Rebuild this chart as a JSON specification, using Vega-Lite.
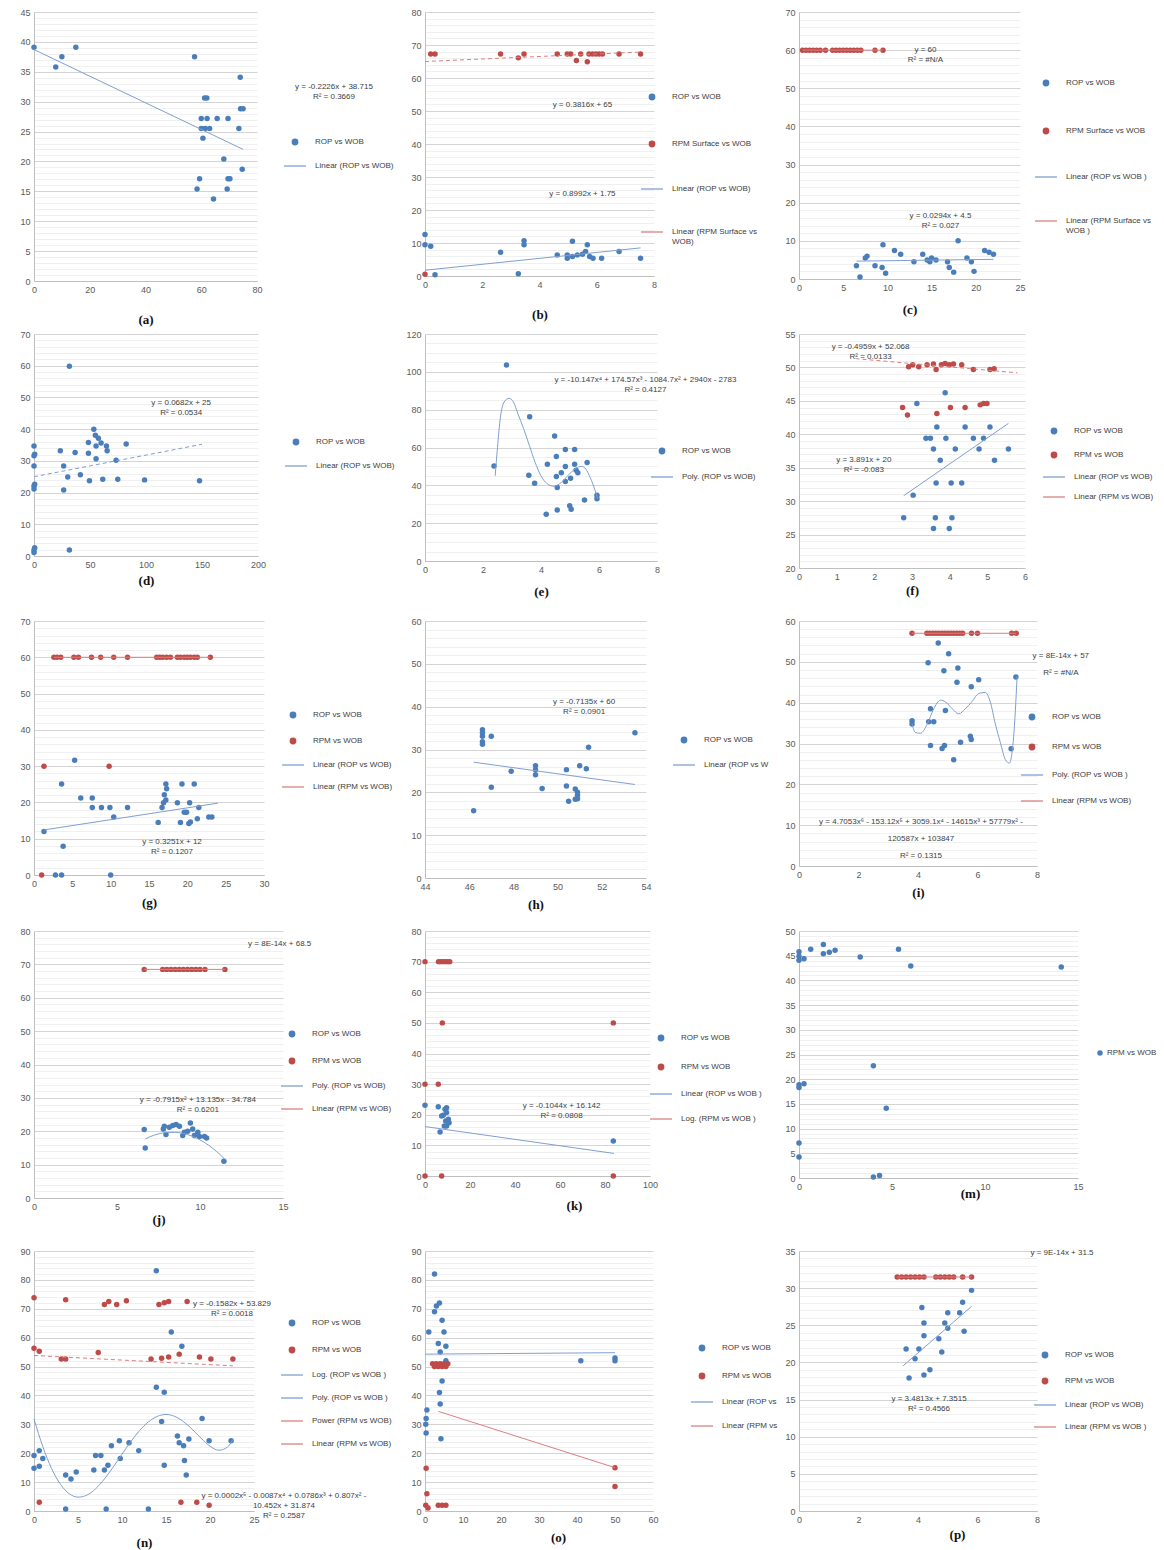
{
"$schema": "https://vega.github.io/schema/vega-lite/v6.json",
"background": "white",
"padding": {"left": 19, "top": 8, "right": 2, "bottom": 2},
"columns": 3,
"bounds": "flush",
"align": {"row": "each", "column": "each"},
"spacing": {"row": 53, "column": 142},
"resolve": {
  "scale": {"x": "independent", "y": "independent", "color": "independent", "shape": "independent"},
  "axis": {"x": "independent", "y": "independent"},
  "legend": {"color": "independent", "shape": "independent"}
},
"config": {
  "view": {"stroke": null},
  "font": "Liberation Sans",
  "axis": {"ticks": false, "domainColor": "#bfbfbf", "labelFontSize": 9, "labelColor": "#595959", "labelPadding": 4, "labelFlush": false, "labelOverlap": false, "titleFont": "Liberation Serif", "titleFontSize": 13, "titleFontWeight": "bold", "titleColor": "#111111"},
  "axisX": {"grid": false},
  "legend": {"orient": "none", "symbolSize": 30, "labelFontSize": 8, "labelColor": "#404040", "labelFont": "Liberation Sans", "labelOffset": 16, "padding": 0, "labelLimit": 200, "symbolStrokeWidth": 1.3},
  "point": {"filled": true, "size": 30, "opacity": 1},
  "line": {"strokeWidth": 1},
  "text": {"fontSize": 8, "font": "Liberation Sans", "align": "center", "baseline": "middle"}
},
"concat": [
{
"width": 223, "height": 269,
"encoding": {
  "x": {"field": "x", "type": "quantitative", "scale": {"domain": [0, 80], "nice": false}, "axis": {"title": "(a)", "values": [0, 20, 40, 60, 80], "titlePadding": 19}},
  "y": {"field": "y", "type": "quantitative", "scale": {"domain": [0, 45], "nice": false}, "axis": {"title": null, "tickCount": 45, "labelExpr": "datum.value % 5 === 0 ? datum.label : ''", "gridColor": {"condition": {"test": "datum.value % 5 === 0", "value": "#d4d4d4"}, "value": "#f0f0f0"}}},
  "color": {"field": "s", "type": "nominal", "scale": {"domain": ["ROP vs WOB", "Linear (ROP vs WOB)"], "range": ["#4a7ebb", "#7f9fd0"]},
    "legend": {"title": null, "legendX": 257, "legendY": 126, "rowPadding": 14, "encode": {"symbols": {"update": {"fill": {"signal": "test(/^(Linear|Poly|Log|Power)/, datum.value) ? 'transparent' : (test(/RPM/, datum.value) ? '#be4b48' : '#4a7ebb')"}, "stroke": {"signal": "test(/^(Linear|Poly|Log|Power)/, datum.value) ? (test(/RPM/, datum.value) ? '#d98080' : '#7f9fd0') : 'transparent'"}}}}}}
},
"layer": [
  {"data": {"values": [
    {"s": "ROP vs WOB", "x": 0, "y": 39.1}, {"s": "ROP vs WOB", "x": 7.8, "y": 35.8}, {"s": "ROP vs WOB", "x": 10, "y": 37.5}, {"s": "ROP vs WOB", "x": 15, "y": 39.1},
    {"s": "ROP vs WOB", "x": 57.6, "y": 37.5}, {"s": "ROP vs WOB", "x": 74, "y": 34.1}, {"s": "ROP vs WOB", "x": 61.2, "y": 30.6}, {"s": "ROP vs WOB", "x": 62, "y": 30.6},
    {"s": "ROP vs WOB", "x": 60, "y": 27.2}, {"s": "ROP vs WOB", "x": 62.1, "y": 27.2}, {"s": "ROP vs WOB", "x": 65.7, "y": 27.2}, {"s": "ROP vs WOB", "x": 69.6, "y": 27.2},
    {"s": "ROP vs WOB", "x": 74.1, "y": 28.8}, {"s": "ROP vs WOB", "x": 75, "y": 28.8}, {"s": "ROP vs WOB", "x": 60, "y": 25.5}, {"s": "ROP vs WOB", "x": 61.4, "y": 25.5},
    {"s": "ROP vs WOB", "x": 63, "y": 25.5}, {"s": "ROP vs WOB", "x": 73.5, "y": 25.5}, {"s": "ROP vs WOB", "x": 60.6, "y": 23.9}, {"s": "ROP vs WOB", "x": 68.1, "y": 20.4},
    {"s": "ROP vs WOB", "x": 74.7, "y": 18.7}, {"s": "ROP vs WOB", "x": 59.4, "y": 17.1}, {"s": "ROP vs WOB", "x": 69.6, "y": 17.1}, {"s": "ROP vs WOB", "x": 70.3, "y": 17.1},
    {"s": "ROP vs WOB", "x": 58.5, "y": 15.4}, {"s": "ROP vs WOB", "x": 69.3, "y": 15.4}, {"s": "ROP vs WOB", "x": 64.4, "y": 13.7}
  ]}, "mark": "point",
  "encoding": {"shape": {"field": "s", "type": "nominal", "scale": {"domain": ["ROP vs WOB", "Linear (ROP vs WOB)"], "range": ["circle", "M-4,0L4,0"]},
    "legend": {"title": null, "legendX": 257, "legendY": 126, "rowPadding": 14, "encode": {"symbols": {"update": {"fill": {"signal": "test(/^(Linear|Poly|Log|Power)/, datum.value) ? 'transparent' : (test(/RPM/, datum.value) ? '#be4b48' : '#4a7ebb')"}, "stroke": {"signal": "test(/^(Linear|Poly|Log|Power)/, datum.value) ? (test(/RPM/, datum.value) ? '#d98080' : '#7f9fd0') : 'transparent'"}}}}}}}},
  {"data": {"values": [{"s": "Linear (ROP vs WOB)", "x": 0, "y": 38.715}, {"s": "Linear (ROP vs WOB)", "x": 75, "y": 22.02}]}, "mark": "line"},
  {"data": {"values": [{"x": 107.6, "y": 32.5, "t": "y = -0.2226x + 38.715\nR² = 0.3669"}]}, "mark": {"type": "text", "lineBreak": "\n"}, "encoding": {"text": {"field": "t"}, "color": {"value": "#404040"}}}
]
},
{
"width": 229, "height": 264,
"encoding": {
  "x": {"field": "x", "type": "quantitative", "scale": {"domain": [0, 8], "nice": false}, "axis": {"title": "(b)", "values": [0, 2, 4, 6, 8], "titlePadding": 19}},
  "y": {"field": "y", "type": "quantitative", "scale": {"domain": [0, 80], "nice": false}, "axis": {"title": null, "tickCount": 40, "labelExpr": "datum.value % 10 === 0 ? datum.label : ''", "gridColor": {"condition": {"test": "datum.value % 10 === 0", "value": "#d4d4d4"}, "value": "#f0f0f0"}}},
  "color": {"field": "s", "type": "nominal", "scale": {"domain": ["ROP vs WOB", "RPM Surface vs WOB", "Linear (ROP vs WOB)", "Linear (RPM Surface vs|WOB)"], "range": ["#4a7ebb", "#be4b48", "#7f9fd0", "#d98080"]},
    "legend": {"title": null, "legendX": 223, "legendY": 81, "rowPadding": 35, "labelExpr": "split(datum.label, '|')", "encode": {"symbols": {"update": {"fill": {"signal": "test(/^(Linear|Poly|Log|Power)/, datum.value) ? 'transparent' : (test(/RPM/, datum.value) ? '#be4b48' : '#4a7ebb')"}, "stroke": {"signal": "test(/^(Linear|Poly|Log|Power)/, datum.value) ? (test(/RPM/, datum.value) ? '#d98080' : '#7f9fd0') : 'transparent'"}}}}}}
},
"layer": [
  {"data": {"values": [
    {"s": "ROP vs WOB", "x": 0, "y": 12.6}, {"s": "ROP vs WOB", "x": 0, "y": 9.5}, {"s": "ROP vs WOB", "x": 0.2, "y": 9.0}, {"s": "ROP vs WOB", "x": 0.35, "y": 0.4},
    {"s": "ROP vs WOB", "x": 2.64, "y": 7.2}, {"s": "ROP vs WOB", "x": 3.46, "y": 9.5}, {"s": "ROP vs WOB", "x": 3.46, "y": 10.7}, {"s": "ROP vs WOB", "x": 3.26, "y": 0.7},
    {"s": "ROP vs WOB", "x": 4.62, "y": 6.4}, {"s": "ROP vs WOB", "x": 4.97, "y": 6.4}, {"s": "ROP vs WOB", "x": 4.97, "y": 5.4}, {"s": "ROP vs WOB", "x": 5.15, "y": 10.5},
    {"s": "ROP vs WOB", "x": 5.15, "y": 5.9}, {"s": "ROP vs WOB", "x": 5.32, "y": 6.4}, {"s": "ROP vs WOB", "x": 5.5, "y": 6.6}, {"s": "ROP vs WOB", "x": 5.61, "y": 7.4},
    {"s": "ROP vs WOB", "x": 5.67, "y": 9.5}, {"s": "ROP vs WOB", "x": 5.75, "y": 5.9}, {"s": "ROP vs WOB", "x": 5.87, "y": 5.4}, {"s": "ROP vs WOB", "x": 6.17, "y": 5.4},
    {"s": "ROP vs WOB", "x": 6.78, "y": 7.4}, {"s": "ROP vs WOB", "x": 7.53, "y": 5.4},
    {"s": "RPM Surface vs WOB", "x": 0, "y": 0.5}, {"s": "RPM Surface vs WOB", "x": 0.2, "y": 67.3}, {"s": "RPM Surface vs WOB", "x": 0.35, "y": 67.3}, {"s": "RPM Surface vs WOB", "x": 2.64, "y": 67.3},
    {"s": "RPM Surface vs WOB", "x": 3.26, "y": 66.1}, {"s": "RPM Surface vs WOB", "x": 3.46, "y": 67.3}, {"s": "RPM Surface vs WOB", "x": 4.62, "y": 67.3}, {"s": "RPM Surface vs WOB", "x": 4.97, "y": 67.3},
    {"s": "RPM Surface vs WOB", "x": 5.09, "y": 67.3}, {"s": "RPM Surface vs WOB", "x": 5.29, "y": 65.3}, {"s": "RPM Surface vs WOB", "x": 5.44, "y": 67.3}, {"s": "RPM Surface vs WOB", "x": 5.67, "y": 64.9},
    {"s": "RPM Surface vs WOB", "x": 5.73, "y": 67.3}, {"s": "RPM Surface vs WOB", "x": 5.85, "y": 67.3}, {"s": "RPM Surface vs WOB", "x": 5.97, "y": 67.3}, {"s": "RPM Surface vs WOB", "x": 6.08, "y": 67.3},
    {"s": "RPM Surface vs WOB", "x": 6.2, "y": 67.3}, {"s": "RPM Surface vs WOB", "x": 6.78, "y": 67.3}, {"s": "RPM Surface vs WOB", "x": 7.53, "y": 67.3}
  ]}, "mark": "point",
  "encoding": {"shape": {"field": "s", "type": "nominal", "scale": {"domain": ["ROP vs WOB", "RPM Surface vs WOB", "Linear (ROP vs WOB)", "Linear (RPM Surface vs|WOB)"], "range": ["circle", "circle", "M-4,0L4,0", "M-4,0L4,0"]},
    "legend": {"title": null, "legendX": 223, "legendY": 81, "rowPadding": 35, "labelExpr": "split(datum.label, '|')", "encode": {"symbols": {"update": {"fill": {"signal": "test(/^(Linear|Poly|Log|Power)/, datum.value) ? 'transparent' : (test(/RPM/, datum.value) ? '#be4b48' : '#4a7ebb')"}, "stroke": {"signal": "test(/^(Linear|Poly|Log|Power)/, datum.value) ? (test(/RPM/, datum.value) ? '#d98080' : '#7f9fd0') : 'transparent'"}}}}}}}},
  {"data": {"values": [{"s": "Linear (ROP vs WOB)", "x": 0, "y": 1.75}, {"s": "Linear (ROP vs WOB)", "x": 7.53, "y": 8.52}]}, "mark": "line"},
  {"data": {"values": [{"s": "Linear (RPM Surface vs|WOB)", "x": 0, "y": 65}, {"s": "Linear (RPM Surface vs|WOB)", "x": 7.53, "y": 67.87}]}, "mark": {"type": "line", "strokeDash": [4, 3]}},
  {"data": {"values": [{"x": 5.5, "y": 51.9, "t": "y = 0.3816x + 65"}, {"x": 5.5, "y": 25.0, "t": "y = 0.8992x + 1.75"}]}, "mark": {"type": "text", "lineBreak": "\n"}, "encoding": {"text": {"field": "t"}, "color": {"value": "#404040"}}}
]
},
{
"width": 221, "height": 267,
"encoding": {
  "x": {"field": "x", "type": "quantitative", "scale": {"domain": [0, 25], "nice": false}, "axis": {"title": "(c)", "values": [0, 5, 10, 15, 20, 25], "titlePadding": 11}},
  "y": {"field": "y", "type": "quantitative", "scale": {"domain": [0, 70], "nice": false}, "axis": {"title": null, "tickCount": 35, "labelExpr": "datum.value % 10 === 0 ? datum.label : ''", "gridColor": {"condition": {"test": "datum.value % 10 === 0", "value": "#d4d4d4"}, "value": "#f0f0f0"}}},
  "color": {"field": "s", "type": "nominal", "scale": {"domain": ["ROP vs WOB", "RPM Surface vs WOB", "Linear (ROP vs WOB )", "Linear (RPM Surface vs|WOB )"], "range": ["#4a7ebb", "#be4b48", "#7f9fd0", "#d98080"]},
    "legend": {"title": null, "legendX": 243, "legendY": 67, "rowPadding": 36, "labelExpr": "split(datum.label, '|')", "encode": {"symbols": {"update": {"fill": {"signal": "test(/^(Linear|Poly|Log|Power)/, datum.value) ? 'transparent' : (test(/RPM/, datum.value) ? '#be4b48' : '#4a7ebb')"}, "stroke": {"signal": "test(/^(Linear|Poly|Log|Power)/, datum.value) ? (test(/RPM/, datum.value) ? '#d98080' : '#7f9fd0') : 'transparent'"}}}}}}
},
"layer": [
  {"data": {"values": [
    {"s": "ROP vs WOB", "x": 6.5, "y": 3.5}, {"s": "ROP vs WOB", "x": 6.9, "y": 0.5}, {"s": "ROP vs WOB", "x": 7.5, "y": 5.5}, {"s": "ROP vs WOB", "x": 7.7, "y": 6.0},
    {"s": "ROP vs WOB", "x": 8.6, "y": 3.5}, {"s": "ROP vs WOB", "x": 9.5, "y": 9.0}, {"s": "ROP vs WOB", "x": 9.4, "y": 3.0}, {"s": "ROP vs WOB", "x": 9.8, "y": 1.5},
    {"s": "ROP vs WOB", "x": 10.8, "y": 7.5}, {"s": "ROP vs WOB", "x": 11.5, "y": 6.5}, {"s": "ROP vs WOB", "x": 13.0, "y": 4.5}, {"s": "ROP vs WOB", "x": 14.0, "y": 6.5},
    {"s": "ROP vs WOB", "x": 14.5, "y": 5.0}, {"s": "ROP vs WOB", "x": 14.8, "y": 4.5}, {"s": "ROP vs WOB", "x": 15.0, "y": 5.5}, {"s": "ROP vs WOB", "x": 15.5, "y": 5.0},
    {"s": "ROP vs WOB", "x": 16.8, "y": 4.5}, {"s": "ROP vs WOB", "x": 17.0, "y": 3.0}, {"s": "ROP vs WOB", "x": 17.5, "y": 1.8}, {"s": "ROP vs WOB", "x": 18.0, "y": 10.0},
    {"s": "ROP vs WOB", "x": 19.0, "y": 5.5}, {"s": "ROP vs WOB", "x": 19.5, "y": 4.5}, {"s": "ROP vs WOB", "x": 19.8, "y": 2.0}, {"s": "ROP vs WOB", "x": 21.0, "y": 7.5},
    {"s": "ROP vs WOB", "x": 21.5, "y": 7.0}, {"s": "ROP vs WOB", "x": 22.0, "y": 6.5},
    {"s": "RPM Surface vs WOB", "x": 0.4, "y": 60}, {"s": "RPM Surface vs WOB", "x": 0.8, "y": 60}, {"s": "RPM Surface vs WOB", "x": 1.2, "y": 60}, {"s": "RPM Surface vs WOB", "x": 1.6, "y": 60},
    {"s": "RPM Surface vs WOB", "x": 2.0, "y": 60}, {"s": "RPM Surface vs WOB", "x": 2.4, "y": 60}, {"s": "RPM Surface vs WOB", "x": 3.0, "y": 60}, {"s": "RPM Surface vs WOB", "x": 3.8, "y": 60},
    {"s": "RPM Surface vs WOB", "x": 4.2, "y": 60}, {"s": "RPM Surface vs WOB", "x": 4.6, "y": 60}, {"s": "RPM Surface vs WOB", "x": 5.0, "y": 60}, {"s": "RPM Surface vs WOB", "x": 5.4, "y": 60},
    {"s": "RPM Surface vs WOB", "x": 5.8, "y": 60}, {"s": "RPM Surface vs WOB", "x": 6.2, "y": 60}, {"s": "RPM Surface vs WOB", "x": 6.6, "y": 60}, {"s": "RPM Surface vs WOB", "x": 7.0, "y": 60},
    {"s": "RPM Surface vs WOB", "x": 8.6, "y": 60}, {"s": "RPM Surface vs WOB", "x": 9.5, "y": 60}
  ]}, "mark": "point",
  "encoding": {"shape": {"field": "s", "type": "nominal", "scale": {"domain": ["ROP vs WOB", "RPM Surface vs WOB", "Linear (ROP vs WOB )", "Linear (RPM Surface vs|WOB )"], "range": ["circle", "circle", "M-4,0L4,0", "M-4,0L4,0"]},
    "legend": {"title": null, "legendX": 243, "legendY": 67, "rowPadding": 36, "labelExpr": "split(datum.label, '|')", "encode": {"symbols": {"update": {"fill": {"signal": "test(/^(Linear|Poly|Log|Power)/, datum.value) ? 'transparent' : (test(/RPM/, datum.value) ? '#be4b48' : '#4a7ebb')"}, "stroke": {"signal": "test(/^(Linear|Poly|Log|Power)/, datum.value) ? (test(/RPM/, datum.value) ? '#d98080' : '#7f9fd0') : 'transparent'"}}}}}}}},
  {"data": {"values": [{"s": "Linear (ROP vs WOB )", "x": 6.5, "y": 4.69}, {"s": "Linear (ROP vs WOB )", "x": 22, "y": 5.15}, {"s": "Linear (RPM Surface vs|WOB )", "x": 0.4, "y": 60}, {"s": "Linear (RPM Surface vs|WOB )", "x": 9.5, "y": 60}]}, "mark": "line"},
  {"data": {"values": [{"x": 14.3, "y": 60.1, "t": "y = 60\nR² = #N/A"}, {"x": 16.0, "y": 16.6, "t": "y = 0.0294x + 4.5\nR² = 0.027"}]}, "mark": {"type": "text", "lineBreak": "\n"}, "encoding": {"text": {"field": "t"}, "color": {"value": "#404040"}}}
]
},
{
"width": 224, "height": 222,
"encoding": {
  "x": {"field": "x", "type": "quantitative", "scale": {"domain": [0, 200], "nice": false}, "axis": {"title": "(d)", "values": [0, 50, 100, 150, 200], "titlePadding": 5}},
  "y": {"field": "y", "type": "quantitative", "scale": {"domain": [0, 70], "nice": false}, "axis": {"title": null, "tickCount": 35, "labelExpr": "datum.value % 10 === 0 ? datum.label : ''", "gridColor": {"condition": {"test": "datum.value % 10 === 0", "value": "#d4d4d4"}, "value": "#f0f0f0"}}},
  "color": {"field": "s", "type": "nominal", "scale": {"domain": ["ROP vs WOB", "Linear (ROP vs WOB)"], "range": ["#4a7ebb", "#7f9fd0"]},
    "legend": {"title": null, "legendX": 258, "legendY": 104, "rowPadding": 14, "encode": {"symbols": {"update": {"fill": {"signal": "test(/^(Linear|Poly|Log|Power)/, datum.value) ? 'transparent' : (test(/RPM/, datum.value) ? '#be4b48' : '#4a7ebb')"}, "stroke": {"signal": "test(/^(Linear|Poly|Log|Power)/, datum.value) ? (test(/RPM/, datum.value) ? '#d98080' : '#7f9fd0') : 'transparent'"}}}}}}
},
"layer": [
  {"data": {"values": [
    {"s": "ROP vs WOB", "x": 0, "y": 34.7}, {"s": "ROP vs WOB", "x": 0, "y": 31.6}, {"s": "ROP vs WOB", "x": 0.6, "y": 32.1}, {"s": "ROP vs WOB", "x": 0, "y": 28.4},
    {"s": "ROP vs WOB", "x": 0, "y": 22.1}, {"s": "ROP vs WOB", "x": 0, "y": 21.1}, {"s": "ROP vs WOB", "x": 0.6, "y": 22.6}, {"s": "ROP vs WOB", "x": 0, "y": 1.9},
    {"s": "ROP vs WOB", "x": 0, "y": 1.1}, {"s": "ROP vs WOB", "x": 0.6, "y": 2.6}, {"s": "ROP vs WOB", "x": 31.6, "y": 59.8}, {"s": "ROP vs WOB", "x": 31.6, "y": 1.9},
    {"s": "ROP vs WOB", "x": 23.5, "y": 33.2}, {"s": "ROP vs WOB", "x": 26.5, "y": 28.4}, {"s": "ROP vs WOB", "x": 26.5, "y": 20.8}, {"s": "ROP vs WOB", "x": 30.1, "y": 24.9},
    {"s": "ROP vs WOB", "x": 36.7, "y": 32.6}, {"s": "ROP vs WOB", "x": 41.4, "y": 25.6}, {"s": "ROP vs WOB", "x": 48.6, "y": 35.8}, {"s": "ROP vs WOB", "x": 48.6, "y": 32.4},
    {"s": "ROP vs WOB", "x": 49.5, "y": 23.7}, {"s": "ROP vs WOB", "x": 53.4, "y": 40.0}, {"s": "ROP vs WOB", "x": 54.8, "y": 38.1}, {"s": "ROP vs WOB", "x": 55.4, "y": 34.7},
    {"s": "ROP vs WOB", "x": 55.4, "y": 30.7}, {"s": "ROP vs WOB", "x": 57.5, "y": 37.1}, {"s": "ROP vs WOB", "x": 59.9, "y": 35.6}, {"s": "ROP vs WOB", "x": 61.4, "y": 24.2},
    {"s": "ROP vs WOB", "x": 64.7, "y": 34.7}, {"s": "ROP vs WOB", "x": 65.3, "y": 33.2}, {"s": "ROP vs WOB", "x": 73.3, "y": 30.2}, {"s": "ROP vs WOB", "x": 74.8, "y": 24.2},
    {"s": "ROP vs WOB", "x": 82.3, "y": 35.3}, {"s": "ROP vs WOB", "x": 98.7, "y": 24.0}, {"s": "ROP vs WOB", "x": 147.8, "y": 23.7}
  ]}, "mark": "point",
  "encoding": {"shape": {"field": "s", "type": "nominal", "scale": {"domain": ["ROP vs WOB", "Linear (ROP vs WOB)"], "range": ["circle", "M-4,0L4,0"]},
    "legend": {"title": null, "legendX": 258, "legendY": 104, "rowPadding": 14, "encode": {"symbols": {"update": {"fill": {"signal": "test(/^(Linear|Poly|Log|Power)/, datum.value) ? 'transparent' : (test(/RPM/, datum.value) ? '#be4b48' : '#4a7ebb')"}, "stroke": {"signal": "test(/^(Linear|Poly|Log|Power)/, datum.value) ? (test(/RPM/, datum.value) ? '#d98080' : '#7f9fd0') : 'transparent'"}}}}}}}},
  {"data": {"values": [{"s": "Linear (ROP vs WOB)", "x": 0, "y": 25}, {"s": "Linear (ROP vs WOB)", "x": 150, "y": 35.23}]}, "mark": {"type": "line", "strokeDash": [4, 3]}},
  {"data": {"values": [{"x": 131.4, "y": 48.2, "t": "y = 0.0682x + 25\nR² = 0.0534"}]}, "mark": {"type": "text", "lineBreak": "\n"}, "encoding": {"text": {"field": "t"}, "color": {"value": "#404040"}}}
]
},
{
"width": 232, "height": 227,
"encoding": {
  "x": {"field": "x", "type": "quantitative", "scale": {"domain": [0, 8], "nice": false}, "axis": {"title": "(e)", "values": [0, 2, 4, 6, 8], "titlePadding": 11}},
  "y": {"field": "y", "type": "quantitative", "scale": {"domain": [0, 120], "nice": false}, "axis": {"title": null, "tickCount": 24, "labelExpr": "datum.value % 20 === 0 ? datum.label : ''", "gridColor": {"condition": {"test": "datum.value % 20 === 0", "value": "#d4d4d4"}, "value": "#f0f0f0"}}},
  "color": {"field": "s", "type": "nominal", "scale": {"domain": ["ROP vs WOB", "Poly. (ROP vs WOB)"], "range": ["#4a7ebb", "#7f9fd0"]},
    "legend": {"title": null, "legendX": 233, "legendY": 113, "rowPadding": 16, "encode": {"symbols": {"update": {"fill": {"signal": "test(/^(Linear|Poly|Log|Power)/, datum.value) ? 'transparent' : (test(/RPM/, datum.value) ? '#be4b48' : '#4a7ebb')"}, "stroke": {"signal": "test(/^(Linear|Poly|Log|Power)/, datum.value) ? (test(/RPM/, datum.value) ? '#d98080' : '#7f9fd0') : 'transparent'"}}}}}}
},
"layer": [
  {"data": {"values": [
    {"s": "ROP vs WOB", "x": 2.81, "y": 103.6}, {"s": "ROP vs WOB", "x": 2.38, "y": 50.2}, {"s": "ROP vs WOB", "x": 3.61, "y": 76.2}, {"s": "ROP vs WOB", "x": 3.58, "y": 45.3},
    {"s": "ROP vs WOB", "x": 3.78, "y": 41.1}, {"s": "ROP vs WOB", "x": 4.22, "y": 51.1}, {"s": "ROP vs WOB", "x": 4.47, "y": 66.1}, {"s": "ROP vs WOB", "x": 4.53, "y": 55.3},
    {"s": "ROP vs WOB", "x": 4.53, "y": 44.7}, {"s": "ROP vs WOB", "x": 4.56, "y": 38.9}, {"s": "ROP vs WOB", "x": 4.18, "y": 24.7}, {"s": "ROP vs WOB", "x": 4.56, "y": 27.0},
    {"s": "ROP vs WOB", "x": 4.70, "y": 46.6}, {"s": "ROP vs WOB", "x": 4.84, "y": 49.9}, {"s": "ROP vs WOB", "x": 4.84, "y": 59.0}, {"s": "ROP vs WOB", "x": 4.84, "y": 42.0},
    {"s": "ROP vs WOB", "x": 5.02, "y": 43.8}, {"s": "ROP vs WOB", "x": 4.99, "y": 29.2}, {"s": "ROP vs WOB", "x": 5.04, "y": 27.4}, {"s": "ROP vs WOB", "x": 5.16, "y": 59.0},
    {"s": "ROP vs WOB", "x": 5.16, "y": 51.1}, {"s": "ROP vs WOB", "x": 5.21, "y": 48.0}, {"s": "ROP vs WOB", "x": 5.27, "y": 46.6}, {"s": "ROP vs WOB", "x": 5.50, "y": 32.3},
    {"s": "ROP vs WOB", "x": 5.59, "y": 52.1}, {"s": "ROP vs WOB", "x": 5.93, "y": 34.7}, {"s": "ROP vs WOB", "x": 5.93, "y": 32.9}
  ]}, "mark": "point",
  "encoding": {"shape": {"field": "s", "type": "nominal", "scale": {"domain": ["ROP vs WOB", "Poly. (ROP vs WOB)"], "range": ["circle", "M-4,0L4,0"]},
    "legend": {"title": null, "legendX": 233, "legendY": 113, "rowPadding": 16, "encode": {"symbols": {"update": {"fill": {"signal": "test(/^(Linear|Poly|Log|Power)/, datum.value) ? 'transparent' : (test(/RPM/, datum.value) ? '#be4b48' : '#4a7ebb')"}, "stroke": {"signal": "test(/^(Linear|Poly|Log|Power)/, datum.value) ? (test(/RPM/, datum.value) ? '#d98080' : '#7f9fd0') : 'transparent'"}}}}}}}},
  {"data": {"values": [
    {"s": "Poly. (ROP vs WOB)", "x": 2.42, "y": 45}, {"s": "Poly. (ROP vs WOB)", "x": 2.5, "y": 60}, {"s": "Poly. (ROP vs WOB)", "x": 2.6, "y": 76}, {"s": "Poly. (ROP vs WOB)", "x": 2.75, "y": 84.5},
    {"s": "Poly. (ROP vs WOB)", "x": 2.9, "y": 86}, {"s": "Poly. (ROP vs WOB)", "x": 3.05, "y": 84}, {"s": "Poly. (ROP vs WOB)", "x": 3.2, "y": 78}, {"s": "Poly. (ROP vs WOB)", "x": 3.4, "y": 70},
    {"s": "Poly. (ROP vs WOB)", "x": 3.6, "y": 61}, {"s": "Poly. (ROP vs WOB)", "x": 3.8, "y": 52}, {"s": "Poly. (ROP vs WOB)", "x": 4.0, "y": 45}, {"s": "Poly. (ROP vs WOB)", "x": 4.2, "y": 41},
    {"s": "Poly. (ROP vs WOB)", "x": 4.45, "y": 39.5}, {"s": "Poly. (ROP vs WOB)", "x": 4.7, "y": 41.5}, {"s": "Poly. (ROP vs WOB)", "x": 4.95, "y": 45.5}, {"s": "Poly. (ROP vs WOB)", "x": 5.2, "y": 49},
    {"s": "Poly. (ROP vs WOB)", "x": 5.4, "y": 50}, {"s": "Poly. (ROP vs WOB)", "x": 5.55, "y": 48.5}, {"s": "Poly. (ROP vs WOB)", "x": 5.7, "y": 44}, {"s": "Poly. (ROP vs WOB)", "x": 5.85, "y": 38},
    {"s": "Poly. (ROP vs WOB)", "x": 5.95, "y": 33}
  ]}, "mark": {"type": "line", "interpolate": "monotone"}},
  {"data": {"values": [{"x": 7.6, "y": 95.6, "t": "y = -10.147x⁴ + 174.57x³ - 1084.7x² + 2940x - 2783\nR² = 0.4127"}]}, "mark": {"type": "text", "lineBreak": "\n"}, "encoding": {"text": {"field": "t"}, "color": {"value": "#404040"}}}
]
},
{
"width": 226, "height": 234,
"encoding": {
  "x": {"field": "x", "type": "quantitative", "scale": {"domain": [0, 6], "nice": false}, "axis": {"title": "(f)", "values": [0, 1, 2, 3, 4, 5, 6], "titlePadding": 3}},
  "y": {"field": "y", "type": "quantitative", "scale": {"domain": [20, 55], "nice": false}, "axis": {"title": null, "tickCount": 35, "labelExpr": "datum.value % 5 === 0 ? datum.label : ''", "gridColor": {"condition": {"test": "datum.value % 5 === 0", "value": "#d4d4d4"}, "value": "#f0f0f0"}}},
  "color": {"field": "s", "type": "nominal", "scale": {"domain": ["ROP vs WOB", "RPM vs WOB", "Linear (ROP vs WOB)", "Linear (RPM vs WOB)"], "range": ["#4a7ebb", "#be4b48", "#7f9fd0", "#d98080"]},
    "legend": {"title": null, "legendX": 251, "legendY": 93, "rowPadding": 12, "encode": {"symbols": {"update": {"fill": {"signal": "test(/^(Linear|Poly|Log|Power)/, datum.value) ? 'transparent' : (test(/RPM/, datum.value) ? '#be4b48' : '#4a7ebb')"}, "stroke": {"signal": "test(/^(Linear|Poly|Log|Power)/, datum.value) ? (test(/RPM/, datum.value) ? '#d98080' : '#7f9fd0') : 'transparent'"}}}}}}
},
"layer": [
  {"data": {"values": [
    {"s": "ROP vs WOB", "x": 3.88, "y": 46.2}, {"s": "ROP vs WOB", "x": 3.13, "y": 44.6}, {"s": "ROP vs WOB", "x": 3.66, "y": 41.1}, {"s": "ROP vs WOB", "x": 4.41, "y": 41.1},
    {"s": "ROP vs WOB", "x": 5.07, "y": 41.1}, {"s": "ROP vs WOB", "x": 3.37, "y": 39.4}, {"s": "ROP vs WOB", "x": 3.49, "y": 39.4}, {"s": "ROP vs WOB", "x": 3.90, "y": 39.4},
    {"s": "ROP vs WOB", "x": 4.63, "y": 39.4}, {"s": "ROP vs WOB", "x": 4.90, "y": 39.4}, {"s": "ROP vs WOB", "x": 3.57, "y": 37.8}, {"s": "ROP vs WOB", "x": 4.15, "y": 37.8},
    {"s": "ROP vs WOB", "x": 4.78, "y": 37.8}, {"s": "ROP vs WOB", "x": 5.56, "y": 37.8}, {"s": "ROP vs WOB", "x": 3.75, "y": 36.1}, {"s": "ROP vs WOB", "x": 5.19, "y": 36.1},
    {"s": "ROP vs WOB", "x": 3.64, "y": 32.7}, {"s": "ROP vs WOB", "x": 4.04, "y": 32.7}, {"s": "ROP vs WOB", "x": 4.32, "y": 32.7}, {"s": "ROP vs WOB", "x": 3.03, "y": 30.9},
    {"s": "ROP vs WOB", "x": 2.78, "y": 27.5}, {"s": "ROP vs WOB", "x": 3.62, "y": 27.5}, {"s": "ROP vs WOB", "x": 4.06, "y": 27.5}, {"s": "ROP vs WOB", "x": 3.57, "y": 25.9},
    {"s": "ROP vs WOB", "x": 3.99, "y": 25.9},
    {"s": "RPM vs WOB", "x": 2.91, "y": 50.1}, {"s": "RPM vs WOB", "x": 3.02, "y": 50.4}, {"s": "RPM vs WOB", "x": 3.18, "y": 50.1}, {"s": "RPM vs WOB", "x": 3.40, "y": 50.4},
    {"s": "RPM vs WOB", "x": 3.57, "y": 50.5}, {"s": "RPM vs WOB", "x": 3.64, "y": 49.7}, {"s": "RPM vs WOB", "x": 3.78, "y": 50.4}, {"s": "RPM vs WOB", "x": 3.88, "y": 50.6},
    {"s": "RPM vs WOB", "x": 3.99, "y": 50.4}, {"s": "RPM vs WOB", "x": 4.10, "y": 50.5}, {"s": "RPM vs WOB", "x": 4.32, "y": 50.4}, {"s": "RPM vs WOB", "x": 4.63, "y": 49.7},
    {"s": "RPM vs WOB", "x": 5.07, "y": 49.7}, {"s": "RPM vs WOB", "x": 5.18, "y": 49.8}, {"s": "RPM vs WOB", "x": 2.75, "y": 44.0}, {"s": "RPM vs WOB", "x": 2.88, "y": 42.9},
    {"s": "RPM vs WOB", "x": 3.66, "y": 43.1}, {"s": "RPM vs WOB", "x": 4.02, "y": 44.0}, {"s": "RPM vs WOB", "x": 4.41, "y": 44.0}, {"s": "RPM vs WOB", "x": 4.81, "y": 44.4},
    {"s": "RPM vs WOB", "x": 4.90, "y": 44.6}, {"s": "RPM vs WOB", "x": 4.99, "y": 44.6}
  ]}, "mark": "point",
  "encoding": {"shape": {"field": "s", "type": "nominal", "scale": {"domain": ["ROP vs WOB", "RPM vs WOB", "Linear (ROP vs WOB)", "Linear (RPM vs WOB)"], "range": ["circle", "circle", "M-4,0L4,0", "M-4,0L4,0"]},
    "legend": {"title": null, "legendX": 251, "legendY": 93, "rowPadding": 12, "encode": {"symbols": {"update": {"fill": {"signal": "test(/^(Linear|Poly|Log|Power)/, datum.value) ? 'transparent' : (test(/RPM/, datum.value) ? '#be4b48' : '#4a7ebb')"}, "stroke": {"signal": "test(/^(Linear|Poly|Log|Power)/, datum.value) ? (test(/RPM/, datum.value) ? '#d98080' : '#7f9fd0') : 'transparent'"}}}}}}}},
  {"data": {"values": [{"s": "Linear (ROP vs WOB)", "x": 2.78, "y": 30.82}, {"s": "Linear (ROP vs WOB)", "x": 5.56, "y": 41.63}]}, "mark": "line"},
  {"data": {"values": [{"s": "Linear (RPM vs WOB)", "x": 1.5, "y": 51.32}, {"s": "Linear (RPM vs WOB)", "x": 5.8, "y": 49.19}]}, "mark": {"type": "line", "strokeDash": [4, 3]}},
  {"data": {"values": [{"x": 1.9, "y": 53.0, "t": "y = -0.4959x + 52.068\nR² = 0.0133"}, {"x": 1.72, "y": 36.1, "t": "y = 3.891x + 20\nR² = -0.083"}]}, "mark": {"type": "text", "lineBreak": "\n"}, "encoding": {"text": {"field": "t"}, "color": {"value": "#404040"}}}
]
},
{
"width": 230, "height": 254,
"encoding": {
  "x": {"field": "x", "type": "quantitative", "scale": {"domain": [0, 30], "nice": false}, "axis": {"title": "(g)", "values": [0, 5, 10, 15, 20, 25, 30], "titlePadding": 8}},
  "y": {"field": "y", "type": "quantitative", "scale": {"domain": [0, 70], "nice": false}, "axis": {"title": null, "tickCount": 35, "labelExpr": "datum.value % 10 === 0 ? datum.label : ''", "gridColor": {"condition": {"test": "datum.value % 10 === 0", "value": "#d4d4d4"}, "value": "#f0f0f0"}}},
  "color": {"field": "s", "type": "nominal", "scale": {"domain": ["ROP vs WOB", "RPM vs WOB", "Linear (ROP vs WOB)", "Linear (RPM vs WOB)"], "range": ["#4a7ebb", "#be4b48", "#7f9fd0", "#d98080"]},
    "legend": {"title": null, "legendX": 255, "legendY": 90, "rowPadding": 14, "encode": {"symbols": {"update": {"fill": {"signal": "test(/^(Linear|Poly|Log|Power)/, datum.value) ? 'transparent' : (test(/RPM/, datum.value) ? '#be4b48' : '#4a7ebb')"}, "stroke": {"signal": "test(/^(Linear|Poly|Log|Power)/, datum.value) ? (test(/RPM/, datum.value) ? '#d98080' : '#7f9fd0') : 'transparent'"}}}}}}
},
"layer": [
  {"data": {"values": [
    {"s": "ROP vs WOB", "x": 5.3, "y": 31.6}, {"s": "ROP vs WOB", "x": 3.6, "y": 25.1}, {"s": "ROP vs WOB", "x": 6.1, "y": 21.2}, {"s": "ROP vs WOB", "x": 7.6, "y": 21.2},
    {"s": "ROP vs WOB", "x": 7.6, "y": 18.6}, {"s": "ROP vs WOB", "x": 8.8, "y": 18.6}, {"s": "ROP vs WOB", "x": 9.9, "y": 18.6}, {"s": "ROP vs WOB", "x": 10.4, "y": 16.0},
    {"s": "ROP vs WOB", "x": 12.2, "y": 18.6}, {"s": "ROP vs WOB", "x": 1.3, "y": 12.0}, {"s": "ROP vs WOB", "x": 3.8, "y": 7.9}, {"s": "ROP vs WOB", "x": 2.8, "y": 0},
    {"s": "ROP vs WOB", "x": 3.6, "y": 0}, {"s": "ROP vs WOB", "x": 10, "y": 0}, {"s": "ROP vs WOB", "x": 17.2, "y": 25.1}, {"s": "ROP vs WOB", "x": 17.3, "y": 23.8},
    {"s": "ROP vs WOB", "x": 17.0, "y": 22.1}, {"s": "ROP vs WOB", "x": 17.2, "y": 20.7}, {"s": "ROP vs WOB", "x": 16.9, "y": 19.9}, {"s": "ROP vs WOB", "x": 16.7, "y": 18.6},
    {"s": "ROP vs WOB", "x": 16.2, "y": 14.5}, {"s": "ROP vs WOB", "x": 18.7, "y": 19.9}, {"s": "ROP vs WOB", "x": 19.3, "y": 25.1}, {"s": "ROP vs WOB", "x": 19.1, "y": 14.5},
    {"s": "ROP vs WOB", "x": 19.6, "y": 17.3}, {"s": "ROP vs WOB", "x": 19.9, "y": 17.3}, {"s": "ROP vs WOB", "x": 20.2, "y": 14.2}, {"s": "ROP vs WOB", "x": 20.4, "y": 14.6},
    {"s": "ROP vs WOB", "x": 20.3, "y": 19.9}, {"s": "ROP vs WOB", "x": 20.9, "y": 25.1}, {"s": "ROP vs WOB", "x": 21.5, "y": 18.6}, {"s": "ROP vs WOB", "x": 21.3, "y": 15.5},
    {"s": "ROP vs WOB", "x": 22.8, "y": 16}, {"s": "ROP vs WOB", "x": 23.2, "y": 16},
    {"s": "RPM vs WOB", "x": 2.6, "y": 60}, {"s": "RPM vs WOB", "x": 3.0, "y": 60}, {"s": "RPM vs WOB", "x": 3.5, "y": 60}, {"s": "RPM vs WOB", "x": 5.2, "y": 60},
    {"s": "RPM vs WOB", "x": 5.8, "y": 60}, {"s": "RPM vs WOB", "x": 7.5, "y": 60}, {"s": "RPM vs WOB", "x": 8.7, "y": 60}, {"s": "RPM vs WOB", "x": 10.4, "y": 60},
    {"s": "RPM vs WOB", "x": 12.2, "y": 60}, {"s": "RPM vs WOB", "x": 16.0, "y": 60}, {"s": "RPM vs WOB", "x": 16.4, "y": 60}, {"s": "RPM vs WOB", "x": 16.8, "y": 60},
    {"s": "RPM vs WOB", "x": 17.3, "y": 60}, {"s": "RPM vs WOB", "x": 17.8, "y": 60}, {"s": "RPM vs WOB", "x": 18.7, "y": 60}, {"s": "RPM vs WOB", "x": 19.1, "y": 60},
    {"s": "RPM vs WOB", "x": 19.6, "y": 60}, {"s": "RPM vs WOB", "x": 20.0, "y": 60}, {"s": "RPM vs WOB", "x": 20.4, "y": 60}, {"s": "RPM vs WOB", "x": 20.9, "y": 60},
    {"s": "RPM vs WOB", "x": 21.3, "y": 60}, {"s": "RPM vs WOB", "x": 23.0, "y": 60}, {"s": "RPM vs WOB", "x": 1.3, "y": 30}, {"s": "RPM vs WOB", "x": 9.8, "y": 30},
    {"s": "RPM vs WOB", "x": 1.0, "y": 0}
  ]}, "mark": "point",
  "encoding": {"shape": {"field": "s", "type": "nominal", "scale": {"domain": ["ROP vs WOB", "RPM vs WOB", "Linear (ROP vs WOB)", "Linear (RPM vs WOB)"], "range": ["circle", "circle", "M-4,0L4,0", "M-4,0L4,0"]},
    "legend": {"title": null, "legendX": 255, "legendY": 90, "rowPadding": 14, "encode": {"symbols": {"update": {"fill": {"signal": "test(/^(Linear|Poly|Log|Power)/, datum.value) ? 'transparent' : (test(/RPM/, datum.value) ? '#be4b48' : '#4a7ebb')"}, "stroke": {"signal": "test(/^(Linear|Poly|Log|Power)/, datum.value) ? (test(/RPM/, datum.value) ? '#d98080' : '#7f9fd0') : 'transparent'"}}}}}}}},
  {"data": {"values": [{"s": "Linear (ROP vs WOB)", "x": 1.3, "y": 12.42}, {"s": "Linear (ROP vs WOB)", "x": 24, "y": 19.8}, {"s": "Linear (RPM vs WOB)", "x": 2.6, "y": 60}, {"s": "Linear (RPM vs WOB)", "x": 23, "y": 60}]}, "mark": "line"},
  {"data": {"values": [{"x": 18.0, "y": 9.2, "t": "y = 0.3251x + 12\nR² = 0.1207"}]}, "mark": {"type": "text", "lineBreak": "\n"}, "encoding": {"text": {"field": "t"}, "color": {"value": "#404040"}}}
]
},
{
"width": 221, "height": 257,
"encoding": {
  "x": {"field": "x", "type": "quantitative", "scale": {"domain": [44, 54], "nice": false}, "axis": {"title": "(h)", "values": [44, 46, 48, 50, 52, 54], "titlePadding": 7}},
  "y": {"field": "y", "type": "quantitative", "scale": {"domain": [0, 60], "nice": false}, "axis": {"title": null, "tickCount": 30, "labelExpr": "datum.value % 10 === 0 ? datum.label : ''", "gridColor": {"condition": {"test": "datum.value % 10 === 0", "value": "#d4d4d4"}, "value": "#f0f0f0"}}},
  "color": {"field": "s", "type": "nominal", "scale": {"domain": ["ROP vs WOB", "Linear (ROP vs W"], "range": ["#4a7ebb", "#7f9fd0"]},
    "legend": {"title": null, "legendX": 255, "legendY": 115, "rowPadding": 15, "encode": {"symbols": {"update": {"fill": {"signal": "test(/^(Linear|Poly|Log|Power)/, datum.value) ? 'transparent' : (test(/RPM/, datum.value) ? '#be4b48' : '#4a7ebb')"}, "stroke": {"signal": "test(/^(Linear|Poly|Log|Power)/, datum.value) ? (test(/RPM/, datum.value) ? '#d98080' : '#7f9fd0') : 'transparent'"}}}}}}
},
"layer": [
  {"data": {"values": [
    {"s": "ROP vs WOB", "x": 46.6, "y": 34.6}, {"s": "ROP vs WOB", "x": 46.6, "y": 33.9}, {"s": "ROP vs WOB", "x": 46.6, "y": 33.1}, {"s": "ROP vs WOB", "x": 46.6, "y": 31.8},
    {"s": "ROP vs WOB", "x": 46.6, "y": 31.2}, {"s": "ROP vs WOB", "x": 47.0, "y": 33.1}, {"s": "ROP vs WOB", "x": 46.2, "y": 15.7}, {"s": "ROP vs WOB", "x": 47.0, "y": 21.2},
    {"s": "ROP vs WOB", "x": 47.9, "y": 24.9}, {"s": "ROP vs WOB", "x": 49.0, "y": 26.2}, {"s": "ROP vs WOB", "x": 49.0, "y": 25.3}, {"s": "ROP vs WOB", "x": 49.0, "y": 24.1},
    {"s": "ROP vs WOB", "x": 49.3, "y": 20.9}, {"s": "ROP vs WOB", "x": 50.4, "y": 25.3}, {"s": "ROP vs WOB", "x": 50.4, "y": 21.5}, {"s": "ROP vs WOB", "x": 50.5, "y": 17.9},
    {"s": "ROP vs WOB", "x": 50.8, "y": 20.8}, {"s": "ROP vs WOB", "x": 50.9, "y": 20.0}, {"s": "ROP vs WOB", "x": 50.9, "y": 19.3}, {"s": "ROP vs WOB", "x": 50.9, "y": 18.5},
    {"s": "ROP vs WOB", "x": 50.8, "y": 18.4}, {"s": "ROP vs WOB", "x": 51.0, "y": 26.2}, {"s": "ROP vs WOB", "x": 51.3, "y": 25.5}, {"s": "ROP vs WOB", "x": 51.4, "y": 30.5},
    {"s": "ROP vs WOB", "x": 53.5, "y": 33.9}
  ]}, "mark": "point",
  "encoding": {"shape": {"field": "s", "type": "nominal", "scale": {"domain": ["ROP vs WOB", "Linear (ROP vs W"], "range": ["circle", "M-4,0L4,0"]},
    "legend": {"title": null, "legendX": 255, "legendY": 115, "rowPadding": 15, "encode": {"symbols": {"update": {"fill": {"signal": "test(/^(Linear|Poly|Log|Power)/, datum.value) ? 'transparent' : (test(/RPM/, datum.value) ? '#be4b48' : '#4a7ebb')"}, "stroke": {"signal": "test(/^(Linear|Poly|Log|Power)/, datum.value) ? (test(/RPM/, datum.value) ? '#d98080' : '#7f9fd0') : 'transparent'"}}}}}}}},
  {"data": {"values": [{"s": "Linear (ROP vs W", "x": 46.2, "y": 27.04}, {"s": "Linear (ROP vs W", "x": 53.5, "y": 21.83}]}, "mark": "line"},
  {"data": {"values": [{"x": 51.2, "y": 41.1, "t": "y = -0.7135x + 60\nR² = 0.0901"}]}, "mark": {"type": "text", "lineBreak": "\n"}, "encoding": {"text": {"field": "t"}, "color": {"value": "#404040"}}}
]
},
{
"width": 238, "height": 245,
"encoding": {
  "x": {"field": "x", "type": "quantitative", "scale": {"domain": [0, 8], "nice": false}, "axis": {"title": "(i)", "values": [0, 2, 4, 6, 8], "titlePadding": 7}},
  "y": {"field": "y", "type": "quantitative", "scale": {"domain": [0, 60], "nice": false}, "axis": {"title": null, "tickCount": 30, "labelExpr": "datum.value % 10 === 0 ? datum.label : ''", "gridColor": {"condition": {"test": "datum.value % 10 === 0", "value": "#d4d4d4"}, "value": "#f0f0f0"}}},
  "color": {"field": "s", "type": "nominal", "scale": {"domain": ["ROP vs WOB", "RPM vs WOB", "Poly. (ROP vs WOB )", "Linear (RPM vs WOB)"], "range": ["#4a7ebb", "#be4b48", "#7f9fd0", "#d98080"]},
    "legend": {"title": null, "legendX": 229, "legendY": 92, "rowPadding": 18, "encode": {"symbols": {"update": {"fill": {"signal": "test(/^(Linear|Poly|Log|Power)/, datum.value) ? 'transparent' : (test(/RPM/, datum.value) ? '#be4b48' : '#4a7ebb')"}, "stroke": {"signal": "test(/^(Linear|Poly|Log|Power)/, datum.value) ? (test(/RPM/, datum.value) ? '#d98080' : '#7f9fd0') : 'transparent'"}}}}}}
},
"layer": [
  {"data": {"values": [
    {"s": "ROP vs WOB", "x": 4.68, "y": 54.6}, {"s": "ROP vs WOB", "x": 4.34, "y": 49.8}, {"s": "ROP vs WOB", "x": 5.03, "y": 52.0}, {"s": "ROP vs WOB", "x": 5.34, "y": 48.5},
    {"s": "ROP vs WOB", "x": 4.87, "y": 47.8}, {"s": "ROP vs WOB", "x": 5.31, "y": 45.0}, {"s": "ROP vs WOB", "x": 5.79, "y": 43.9}, {"s": "ROP vs WOB", "x": 6.04, "y": 45.6},
    {"s": "ROP vs WOB", "x": 7.29, "y": 46.3}, {"s": "ROP vs WOB", "x": 4.42, "y": 38.5}, {"s": "ROP vs WOB", "x": 4.92, "y": 38.1}, {"s": "ROP vs WOB", "x": 3.80, "y": 35.6},
    {"s": "ROP vs WOB", "x": 3.80, "y": 34.75}, {"s": "ROP vs WOB", "x": 4.36, "y": 35.3}, {"s": "ROP vs WOB", "x": 4.53, "y": 35.3}, {"s": "ROP vs WOB", "x": 4.42, "y": 29.5},
    {"s": "ROP vs WOB", "x": 4.81, "y": 28.75}, {"s": "ROP vs WOB", "x": 4.89, "y": 29.5}, {"s": "ROP vs WOB", "x": 5.43, "y": 30.3}, {"s": "ROP vs WOB", "x": 5.76, "y": 31.8},
    {"s": "ROP vs WOB", "x": 5.79, "y": 31.0}, {"s": "ROP vs WOB", "x": 5.20, "y": 26.0}, {"s": "ROP vs WOB", "x": 7.13, "y": 28.7},
    {"s": "RPM vs WOB", "x": 3.8, "y": 57}, {"s": "RPM vs WOB", "x": 4.3, "y": 57}, {"s": "RPM vs WOB", "x": 4.4, "y": 57}, {"s": "RPM vs WOB", "x": 4.5, "y": 57},
    {"s": "RPM vs WOB", "x": 4.6, "y": 57}, {"s": "RPM vs WOB", "x": 4.7, "y": 57}, {"s": "RPM vs WOB", "x": 4.8, "y": 57}, {"s": "RPM vs WOB", "x": 4.9, "y": 57},
    {"s": "RPM vs WOB", "x": 5.0, "y": 57}, {"s": "RPM vs WOB", "x": 5.1, "y": 57}, {"s": "RPM vs WOB", "x": 5.2, "y": 57}, {"s": "RPM vs WOB", "x": 5.3, "y": 57},
    {"s": "RPM vs WOB", "x": 5.4, "y": 57}, {"s": "RPM vs WOB", "x": 5.5, "y": 57}, {"s": "RPM vs WOB", "x": 5.8, "y": 57}, {"s": "RPM vs WOB", "x": 6.0, "y": 57},
    {"s": "RPM vs WOB", "x": 7.15, "y": 57}, {"s": "RPM vs WOB", "x": 7.3, "y": 57}
  ]}, "mark": "point",
  "encoding": {"shape": {"field": "s", "type": "nominal", "scale": {"domain": ["ROP vs WOB", "RPM vs WOB", "Poly. (ROP vs WOB )", "Linear (RPM vs WOB)"], "range": ["circle", "circle", "M-4,0L4,0", "M-4,0L4,0"]},
    "legend": {"title": null, "legendX": 229, "legendY": 92, "rowPadding": 18, "encode": {"symbols": {"update": {"fill": {"signal": "test(/^(Linear|Poly|Log|Power)/, datum.value) ? 'transparent' : (test(/RPM/, datum.value) ? '#be4b48' : '#4a7ebb')"}, "stroke": {"signal": "test(/^(Linear|Poly|Log|Power)/, datum.value) ? (test(/RPM/, datum.value) ? '#d98080' : '#7f9fd0') : 'transparent'"}}}}}}}},
  {"data": {"values": [
    {"s": "Poly. (ROP vs WOB )", "x": 3.8, "y": 34.75}, {"s": "Poly. (ROP vs WOB )", "x": 3.91, "y": 32.7}, {"s": "Poly. (ROP vs WOB )", "x": 4.08, "y": 32.5}, {"s": "Poly. (ROP vs WOB )", "x": 4.31, "y": 34.75},
    {"s": "Poly. (ROP vs WOB )", "x": 4.53, "y": 38.5}, {"s": "Poly. (ROP vs WOB )", "x": 4.75, "y": 40.6}, {"s": "Poly. (ROP vs WOB )", "x": 4.92, "y": 40.2}, {"s": "Poly. (ROP vs WOB )", "x": 5.15, "y": 38.5},
    {"s": "Poly. (ROP vs WOB )", "x": 5.37, "y": 37.25}, {"s": "Poly. (ROP vs WOB )", "x": 5.59, "y": 38.5}, {"s": "Poly. (ROP vs WOB )", "x": 5.82, "y": 40.3}, {"s": "Poly. (ROP vs WOB )", "x": 6.04, "y": 42.25},
    {"s": "Poly. (ROP vs WOB )", "x": 6.26, "y": 42.5}, {"s": "Poly. (ROP vs WOB )", "x": 6.43, "y": 40.2}, {"s": "Poly. (ROP vs WOB )", "x": 6.6, "y": 34.75}, {"s": "Poly. (ROP vs WOB )", "x": 6.77, "y": 30.2},
    {"s": "Poly. (ROP vs WOB )", "x": 6.94, "y": 26.0}, {"s": "Poly. (ROP vs WOB )", "x": 7.07, "y": 25.2}, {"s": "Poly. (ROP vs WOB )", "x": 7.16, "y": 27.7}, {"s": "Poly. (ROP vs WOB )", "x": 7.27, "y": 37.7},
    {"s": "Poly. (ROP vs WOB )", "x": 7.33, "y": 46.4},
    {"s": "Linear (RPM vs WOB)", "x": 3.8, "y": 57}, {"s": "Linear (RPM vs WOB)", "x": 7.3, "y": 57}
  ]}, "mark": {"type": "line", "interpolate": "monotone"}},
  {"data": {"values": [{"x": 8.8, "y": 51.5, "t": "y = 8E-14x + 57\nR² = #N/A"}, {"x": 4.1, "y": 10.75, "t": "y = 4.7053x⁶ - 153.12x⁵ + 3059.1x⁴ - 14615x³ + 57779x² -\n120587x + 103847\nR² = 0.1315"}]}, "mark": {"type": "text", "lineBreak": "\n", "lineHeight": 17}, "encoding": {"text": {"field": "t"}, "color": {"value": "#404040"}}}
]
},
{
"width": 249, "height": 267,
"encoding": {
  "x": {"field": "x", "type": "quantitative", "scale": {"domain": [0, 15], "nice": false}, "axis": {"title": "(j)", "values": [0, 5, 10, 15], "titlePadding": 2}},
  "y": {"field": "y", "type": "quantitative", "scale": {"domain": [0, 80], "nice": false}, "axis": {"title": null, "tickCount": 40, "labelExpr": "datum.value % 10 === 0 ? datum.label : ''", "gridColor": {"condition": {"test": "datum.value % 10 === 0", "value": "#d4d4d4"}, "value": "#f0f0f0"}}},
  "color": {"field": "s", "type": "nominal", "scale": {"domain": ["ROP vs WOB", "RPM vs WOB", "Poly. (ROP vs WOB)", "Linear (RPM vs WOB)"], "range": ["#4a7ebb", "#be4b48", "#7f9fd0", "#d98080"]},
    "legend": {"title": null, "legendX": 254, "legendY": 99, "rowPadding": 15, "encode": {"symbols": {"update": {"fill": {"signal": "test(/^(Linear|Poly|Log|Power)/, datum.value) ? 'transparent' : (test(/RPM/, datum.value) ? '#be4b48' : '#4a7ebb')"}, "stroke": {"signal": "test(/^(Linear|Poly|Log|Power)/, datum.value) ? (test(/RPM/, datum.value) ? '#d98080' : '#7f9fd0') : 'transparent'"}}}}}}
},
"layer": [
  {"data": {"values": [
    {"s": "ROP vs WOB", "x": 6.64, "y": 20.5}, {"s": "ROP vs WOB", "x": 6.70, "y": 15.0}, {"s": "ROP vs WOB", "x": 7.79, "y": 20.7}, {"s": "ROP vs WOB", "x": 7.85, "y": 21.5},
    {"s": "ROP vs WOB", "x": 7.95, "y": 19.0}, {"s": "ROP vs WOB", "x": 8.15, "y": 21.2}, {"s": "ROP vs WOB", "x": 8.36, "y": 21.7}, {"s": "ROP vs WOB", "x": 8.56, "y": 22.0},
    {"s": "ROP vs WOB", "x": 8.76, "y": 21.5}, {"s": "ROP vs WOB", "x": 8.96, "y": 18.7}, {"s": "ROP vs WOB", "x": 9.06, "y": 19.7}, {"s": "ROP vs WOB", "x": 9.26, "y": 20.0},
    {"s": "ROP vs WOB", "x": 9.42, "y": 22.5}, {"s": "ROP vs WOB", "x": 9.56, "y": 20.7}, {"s": "ROP vs WOB", "x": 9.66, "y": 18.7}, {"s": "ROP vs WOB", "x": 9.87, "y": 19.7},
    {"s": "ROP vs WOB", "x": 9.97, "y": 18.4}, {"s": "ROP vs WOB", "x": 10.27, "y": 18.4}, {"s": "ROP vs WOB", "x": 10.4, "y": 18.0}, {"s": "ROP vs WOB", "x": 11.44, "y": 11.0},
    {"s": "RPM vs WOB", "x": 6.64, "y": 68.5}, {"s": "RPM vs WOB", "x": 7.75, "y": 68.5}, {"s": "RPM vs WOB", "x": 8.0, "y": 68.5}, {"s": "RPM vs WOB", "x": 8.25, "y": 68.5},
    {"s": "RPM vs WOB", "x": 8.5, "y": 68.5}, {"s": "RPM vs WOB", "x": 8.75, "y": 68.5}, {"s": "RPM vs WOB", "x": 9.0, "y": 68.5}, {"s": "RPM vs WOB", "x": 9.25, "y": 68.5},
    {"s": "RPM vs WOB", "x": 9.5, "y": 68.5}, {"s": "RPM vs WOB", "x": 9.75, "y": 68.5}, {"s": "RPM vs WOB", "x": 10.0, "y": 68.5}, {"s": "RPM vs WOB", "x": 10.3, "y": 68.5},
    {"s": "RPM vs WOB", "x": 11.5, "y": 68.5}
  ]}, "mark": "point",
  "encoding": {"shape": {"field": "s", "type": "nominal", "scale": {"domain": ["ROP vs WOB", "RPM vs WOB", "Poly. (ROP vs WOB)", "Linear (RPM vs WOB)"], "range": ["circle", "circle", "M-4,0L4,0", "M-4,0L4,0"]},
    "legend": {"title": null, "legendX": 254, "legendY": 99, "rowPadding": 15, "encode": {"symbols": {"update": {"fill": {"signal": "test(/^(Linear|Poly|Log|Power)/, datum.value) ? 'transparent' : (test(/RPM/, datum.value) ? '#be4b48' : '#4a7ebb')"}, "stroke": {"signal": "test(/^(Linear|Poly|Log|Power)/, datum.value) ? (test(/RPM/, datum.value) ? '#d98080' : '#7f9fd0') : 'transparent'"}}}}}}}},
  {"data": {"values": [
    {"s": "Poly. (ROP vs WOB)", "x": 6.7, "y": 17.69}, {"s": "Poly. (ROP vs WOB)", "x": 7.0, "y": 18.38}, {"s": "Poly. (ROP vs WOB)", "x": 7.5, "y": 19.21}, {"s": "Poly. (ROP vs WOB)", "x": 8.0, "y": 19.64},
    {"s": "Poly. (ROP vs WOB)", "x": 8.5, "y": 19.68}, {"s": "Poly. (ROP vs WOB)", "x": 9.0, "y": 19.33}, {"s": "Poly. (ROP vs WOB)", "x": 9.5, "y": 18.57}, {"s": "Poly. (ROP vs WOB)", "x": 10.0, "y": 17.42},
    {"s": "Poly. (ROP vs WOB)", "x": 10.5, "y": 15.88}, {"s": "Poly. (ROP vs WOB)", "x": 11.0, "y": 13.94}, {"s": "Poly. (ROP vs WOB)", "x": 11.5, "y": 11.59},
    {"s": "Linear (RPM vs WOB)", "x": 6.64, "y": 68.5}, {"s": "Linear (RPM vs WOB)", "x": 11.5, "y": 68.5}
  ]}, "mark": {"type": "line", "interpolate": "monotone"}},
  {"data": {"values": [{"x": 14.8, "y": 76, "t": "y = 8E-14x + 68.5"}, {"x": 9.87, "y": 29.3, "t": "y = -0.7915x² + 13.135x - 34.784\nR² = 0.6201"}]}, "mark": {"type": "text", "lineBreak": "\n"}, "encoding": {"text": {"field": "t"}, "color": {"value": "#404040"}}}
]
},
{
"width": 225, "height": 245,
"encoding": {
  "x": {"field": "x", "type": "quantitative", "scale": {"domain": [0, 100], "nice": false}, "axis": {"title": "(k)", "values": [0, 20, 40, 60, 80, 100], "titlePadding": 10, "titleX": 149}},
  "y": {"field": "y", "type": "quantitative", "scale": {"domain": [0, 80], "nice": false}, "axis": {"title": null, "tickCount": 40, "labelExpr": "datum.value % 10 === 0 ? datum.label : ''", "gridColor": {"condition": {"test": "datum.value % 10 === 0", "value": "#d4d4d4"}, "value": "#f0f0f0"}}},
  "color": {"field": "s", "type": "nominal", "scale": {"domain": ["ROP vs WOB", "RPM vs WOB", "Linear (ROP vs WOB )", "Log. (RPM vs WOB )"], "range": ["#4a7ebb", "#be4b48", "#7f9fd0", "#d98080"]},
    "legend": {"title": null, "legendX": 232, "legendY": 103, "rowPadding": 17, "encode": {"symbols": {"update": {"fill": {"signal": "test(/^(Linear|Poly|Log|Power)/, datum.value) ? 'transparent' : (test(/RPM/, datum.value) ? '#be4b48' : '#4a7ebb')"}, "stroke": {"signal": "test(/^(Linear|Poly|Log|Power)/, datum.value) ? (test(/RPM/, datum.value) ? '#d98080' : '#7f9fd0') : 'transparent'"}}}}}}
},
"layer": [
  {"data": {"values": [
    {"s": "ROP vs WOB", "x": 0, "y": 23.1}, {"s": "ROP vs WOB", "x": 5.9, "y": 22.6}, {"s": "ROP vs WOB", "x": 6.7, "y": 14.4}, {"s": "ROP vs WOB", "x": 7.4, "y": 19.6},
    {"s": "ROP vs WOB", "x": 8.1, "y": 19.8}, {"s": "ROP vs WOB", "x": 8.9, "y": 21.8}, {"s": "ROP vs WOB", "x": 9.6, "y": 20.7}, {"s": "ROP vs WOB", "x": 9.2, "y": 18.0},
    {"s": "ROP vs WOB", "x": 9.6, "y": 22.3}, {"s": "ROP vs WOB", "x": 10.4, "y": 18.5}, {"s": "ROP vs WOB", "x": 10.7, "y": 17.4}, {"s": "ROP vs WOB", "x": 8.6, "y": 16.3},
    {"s": "ROP vs WOB", "x": 9.6, "y": 16.3}, {"s": "ROP vs WOB", "x": 83.7, "y": 11.4},
    {"s": "RPM vs WOB", "x": 0, "y": 70}, {"s": "RPM vs WOB", "x": 6, "y": 70}, {"s": "RPM vs WOB", "x": 7, "y": 70}, {"s": "RPM vs WOB", "x": 8, "y": 70},
    {"s": "RPM vs WOB", "x": 9, "y": 70}, {"s": "RPM vs WOB", "x": 10, "y": 70}, {"s": "RPM vs WOB", "x": 11, "y": 70}, {"s": "RPM vs WOB", "x": 7.7, "y": 50},
    {"s": "RPM vs WOB", "x": 83.7, "y": 50}, {"s": "RPM vs WOB", "x": 0, "y": 30}, {"s": "RPM vs WOB", "x": 5.9, "y": 30}, {"s": "RPM vs WOB", "x": 0, "y": 0},
    {"s": "RPM vs WOB", "x": 7.4, "y": 0}, {"s": "RPM vs WOB", "x": 83.7, "y": 0}
  ]}, "mark": "point",
  "encoding": {"shape": {"field": "s", "type": "nominal", "scale": {"domain": ["ROP vs WOB", "RPM vs WOB", "Linear (ROP vs WOB )", "Log. (RPM vs WOB )"], "range": ["circle", "circle", "M-4,0L4,0", "M-4,0L4,0"]},
    "legend": {"title": null, "legendX": 232, "legendY": 103, "rowPadding": 17, "encode": {"symbols": {"update": {"fill": {"signal": "test(/^(Linear|Poly|Log|Power)/, datum.value) ? 'transparent' : (test(/RPM/, datum.value) ? '#be4b48' : '#4a7ebb')"}, "stroke": {"signal": "test(/^(Linear|Poly|Log|Power)/, datum.value) ? (test(/RPM/, datum.value) ? '#d98080' : '#7f9fd0') : 'transparent'"}}}}}}}},
  {"data": {"values": [{"s": "Linear (ROP vs WOB )", "x": 0, "y": 16.142}, {"s": "Linear (ROP vs WOB )", "x": 84, "y": 7.37}]}, "mark": "line"},
  {"data": {"values": [{"x": 60.7, "y": 23.0, "t": "y = -0.1044x + 16.142\nR² = 0.0808"}]}, "mark": {"type": "text", "lineBreak": "\n"}, "encoding": {"text": {"field": "t"}, "color": {"value": "#404040"}}}
]
},
{
"width": 279, "height": 247,
"encoding": {
  "x": {"field": "x", "type": "quantitative", "scale": {"domain": [0, 15], "nice": false}, "axis": {"title": "(m)", "values": [0, 5, 10, 15], "titlePadding": -4, "titleX": 171}},
  "y": {"field": "y", "type": "quantitative", "scale": {"domain": [0, 50], "nice": false}, "axis": {"title": null, "tickCount": 50, "labelExpr": "datum.value % 5 === 0 ? datum.label : ''", "gridColor": {"condition": {"test": "datum.value % 5 === 0", "value": "#d4d4d4"}, "value": "#f0f0f0"}}},
  "color": {"field": "s", "type": "nominal", "scale": {"domain": ["RPM vs WOB"], "range": ["#4a7ebb"]}, "legend": {"title": null, "legendX": 297, "legendY": 118, "labelOffset": 3}}
},
"layer": [
  {"data": {"values": [
    {"s": "RPM vs WOB", "x": 0, "y": 45.8}, {"s": "RPM vs WOB", "x": 0, "y": 44.9}, {"s": "RPM vs WOB", "x": 0, "y": 44.1}, {"s": "RPM vs WOB", "x": 0.27, "y": 44.4},
    {"s": "RPM vs WOB", "x": 0.63, "y": 46.3}, {"s": "RPM vs WOB", "x": 1.31, "y": 47.25}, {"s": "RPM vs WOB", "x": 1.31, "y": 45.4}, {"s": "RPM vs WOB", "x": 1.63, "y": 45.7},
    {"s": "RPM vs WOB", "x": 1.94, "y": 46.1}, {"s": "RPM vs WOB", "x": 3.29, "y": 44.75}, {"s": "RPM vs WOB", "x": 5.35, "y": 46.3}, {"s": "RPM vs WOB", "x": 6.01, "y": 42.9},
    {"s": "RPM vs WOB", "x": 14.1, "y": 42.7}, {"s": "RPM vs WOB", "x": 0, "y": 18.9}, {"s": "RPM vs WOB", "x": 0, "y": 18.3}, {"s": "RPM vs WOB", "x": 0.27, "y": 19.1},
    {"s": "RPM vs WOB", "x": 0, "y": 7.1}, {"s": "RPM vs WOB", "x": 0, "y": 4.25}, {"s": "RPM vs WOB", "x": 4.0, "y": 22.7}, {"s": "RPM vs WOB", "x": 4.69, "y": 14.1},
    {"s": "RPM vs WOB", "x": 4.0, "y": 0.2}, {"s": "RPM vs WOB", "x": 4.33, "y": 0.5}
  ]}, "mark": "point"}
]
},
{
"width": 220, "height": 260,
"encoding": {
  "x": {"field": "x", "type": "quantitative", "scale": {"domain": [0, 25], "nice": false}, "axis": {"title": "(n)", "values": [0, 5, 10, 15, 20, 25], "titlePadding": 12}},
  "y": {"field": "y", "type": "quantitative", "scale": {"domain": [0, 90], "nice": false}, "axis": {"title": null, "tickCount": 45, "labelExpr": "datum.value % 10 === 0 ? datum.label : ''", "gridColor": {"condition": {"test": "datum.value % 10 === 0", "value": "#d4d4d4"}, "value": "#f0f0f0"}}},
  "color": {"field": "s", "type": "nominal", "scale": {"domain": ["ROP vs WOB", "RPM vs WOB", "Log. (ROP vs WOB )", "Poly. (ROP vs WOB )", "Power (RPM vs WOB)", "Linear (RPM vs WOB)"], "range": ["#4a7ebb", "#be4b48", "#7f9fd0", "#7f9fd0", "#d98080", "#d98080"]},
    "legend": {"title": null, "legendX": 254, "legendY": 68, "rowPadding": 15, "encode": {"symbols": {"update": {"fill": {"signal": "test(/^(Linear|Poly|Log|Power)/, datum.value) ? 'transparent' : (test(/RPM/, datum.value) ? '#be4b48' : '#4a7ebb')"}, "stroke": {"signal": "test(/^(Linear|Poly|Log|Power)/, datum.value) ? (test(/RPM/, datum.value) ? '#d98080' : '#7f9fd0') : 'transparent'"}}}}}}
},
"layer": [
  {"data": {"values": [
    {"s": "ROP vs WOB", "x": 0, "y": 19.2}, {"s": "ROP vs WOB", "x": 0.6, "y": 20.9}, {"s": "ROP vs WOB", "x": 0, "y": 14.8}, {"s": "ROP vs WOB", "x": 0.6, "y": 15.5},
    {"s": "ROP vs WOB", "x": 1.0, "y": 18.2}, {"s": "ROP vs WOB", "x": 3.6, "y": 12.5}, {"s": "ROP vs WOB", "x": 4.2, "y": 11.1}, {"s": "ROP vs WOB", "x": 4.8, "y": 13.5},
    {"s": "ROP vs WOB", "x": 3.6, "y": 0.7}, {"s": "ROP vs WOB", "x": 6.8, "y": 14.2}, {"s": "ROP vs WOB", "x": 7.0, "y": 19.2}, {"s": "ROP vs WOB", "x": 7.6, "y": 19.2},
    {"s": "ROP vs WOB", "x": 8.0, "y": 14.2}, {"s": "ROP vs WOB", "x": 8.4, "y": 15.8}, {"s": "ROP vs WOB", "x": 8.8, "y": 22.6}, {"s": "ROP vs WOB", "x": 8.2, "y": 0.7},
    {"s": "ROP vs WOB", "x": 9.7, "y": 24.3}, {"s": "ROP vs WOB", "x": 10.8, "y": 23.6}, {"s": "ROP vs WOB", "x": 11.9, "y": 20.9}, {"s": "ROP vs WOB", "x": 9.8, "y": 18.2},
    {"s": "ROP vs WOB", "x": 13.0, "y": 0.7}, {"s": "ROP vs WOB", "x": 13.9, "y": 83.2}, {"s": "ROP vs WOB", "x": 13.9, "y": 42.8}, {"s": "ROP vs WOB", "x": 14.8, "y": 41.1},
    {"s": "ROP vs WOB", "x": 14.5, "y": 31.0}, {"s": "ROP vs WOB", "x": 14.8, "y": 15.8}, {"s": "ROP vs WOB", "x": 15.6, "y": 62.0}, {"s": "ROP vs WOB", "x": 16.3, "y": 26.0},
    {"s": "ROP vs WOB", "x": 16.5, "y": 23.6}, {"s": "ROP vs WOB", "x": 17.0, "y": 22.6}, {"s": "ROP vs WOB", "x": 17.1, "y": 17.5}, {"s": "ROP vs WOB", "x": 17.3, "y": 12.5},
    {"s": "ROP vs WOB", "x": 16.8, "y": 57.0}, {"s": "ROP vs WOB", "x": 17.6, "y": 24.9}, {"s": "ROP vs WOB", "x": 19.1, "y": 32.0}, {"s": "ROP vs WOB", "x": 19.9, "y": 24.3},
    {"s": "ROP vs WOB", "x": 22.4, "y": 24.3},
    {"s": "RPM vs WOB", "x": 0, "y": 73.8}, {"s": "RPM vs WOB", "x": 3.6, "y": 73.1}, {"s": "RPM vs WOB", "x": 8.0, "y": 71.5}, {"s": "RPM vs WOB", "x": 8.5, "y": 72.5},
    {"s": "RPM vs WOB", "x": 9.4, "y": 71.5}, {"s": "RPM vs WOB", "x": 10.5, "y": 72.8}, {"s": "RPM vs WOB", "x": 14.2, "y": 71.5}, {"s": "RPM vs WOB", "x": 14.8, "y": 72.1},
    {"s": "RPM vs WOB", "x": 15.3, "y": 72.5}, {"s": "RPM vs WOB", "x": 17.4, "y": 72.5}, {"s": "RPM vs WOB", "x": 0, "y": 56.3}, {"s": "RPM vs WOB", "x": 0.6, "y": 55.3},
    {"s": "RPM vs WOB", "x": 3.1, "y": 52.6}, {"s": "RPM vs WOB", "x": 3.6, "y": 52.6}, {"s": "RPM vs WOB", "x": 7.3, "y": 54.9}, {"s": "RPM vs WOB", "x": 13.3, "y": 52.6},
    {"s": "RPM vs WOB", "x": 14.5, "y": 52.9}, {"s": "RPM vs WOB", "x": 15.3, "y": 53.3}, {"s": "RPM vs WOB", "x": 16.5, "y": 54.3}, {"s": "RPM vs WOB", "x": 18.8, "y": 53.3},
    {"s": "RPM vs WOB", "x": 20.1, "y": 52.6}, {"s": "RPM vs WOB", "x": 22.6, "y": 52.6}, {"s": "RPM vs WOB", "x": 0.6, "y": 3.0}, {"s": "RPM vs WOB", "x": 16.7, "y": 3.0},
    {"s": "RPM vs WOB", "x": 18.5, "y": 3.0}, {"s": "RPM vs WOB", "x": 19.9, "y": 2.0}
  ]}, "mark": "point",
  "encoding": {"shape": {"field": "s", "type": "nominal", "scale": {"domain": ["ROP vs WOB", "RPM vs WOB", "Log. (ROP vs WOB )", "Poly. (ROP vs WOB )", "Power (RPM vs WOB)", "Linear (RPM vs WOB)"], "range": ["circle", "circle", "M-4,0L4,0", "M-4,0L4,0", "M-4,0L4,0", "M-4,0L4,0"]},
    "legend": {"title": null, "legendX": 254, "legendY": 68, "rowPadding": 15, "encode": {"symbols": {"update": {"fill": {"signal": "test(/^(Linear|Poly|Log|Power)/, datum.value) ? 'transparent' : (test(/RPM/, datum.value) ? '#be4b48' : '#4a7ebb')"}, "stroke": {"signal": "test(/^(Linear|Poly|Log|Power)/, datum.value) ? (test(/RPM/, datum.value) ? '#d98080' : '#7f9fd0') : 'transparent'"}}}}}}}},
  {"data": {"values": [
    {"s": "Poly. (ROP vs WOB )", "x": 0, "y": 31.87}, {"s": "Poly. (ROP vs WOB )", "x": 1, "y": 22.3}, {"s": "Poly. (ROP vs WOB )", "x": 2, "y": 14.69}, {"s": "Poly. (ROP vs WOB )", "x": 3, "y": 9.25},
    {"s": "Poly. (ROP vs WOB )", "x": 4, "y": 5.99}, {"s": "Poly. (ROP vs WOB )", "x": 5, "y": 4.8}, {"s": "Poly. (ROP vs WOB )", "x": 6, "y": 5.47}, {"s": "Poly. (ROP vs WOB )", "x": 7, "y": 7.69},
    {"s": "Poly. (ROP vs WOB )", "x": 8, "y": 11.07}, {"s": "Poly. (ROP vs WOB )", "x": 9, "y": 15.2}, {"s": "Poly. (ROP vs WOB )", "x": 10, "y": 19.65}, {"s": "Poly. (ROP vs WOB )", "x": 11, "y": 24.0},
    {"s": "Poly. (ROP vs WOB )", "x": 12, "y": 27.85}, {"s": "Poly. (ROP vs WOB )", "x": 13, "y": 30.84}, {"s": "Poly. (ROP vs WOB )", "x": 14, "y": 32.74}, {"s": "Poly. (ROP vs WOB )", "x": 15, "y": 33.41},
    {"s": "Poly. (ROP vs WOB )", "x": 16, "y": 32.74}, {"s": "Poly. (ROP vs WOB )", "x": 17, "y": 30.91}, {"s": "Poly. (ROP vs WOB )", "x": 18, "y": 28.23}, {"s": "Poly. (ROP vs WOB )", "x": 19, "y": 25.16},
    {"s": "Poly. (ROP vs WOB )", "x": 20, "y": 22.43}, {"s": "Poly. (ROP vs WOB )", "x": 21, "y": 21.02}, {"s": "Poly. (ROP vs WOB )", "x": 22, "y": 22.15}, {"s": "Poly. (ROP vs WOB )", "x": 22.6, "y": 24.8}
  ]}, "mark": {"type": "line", "interpolate": "monotone"}},
  {"data": {"values": [{"s": "Linear (RPM vs WOB)", "x": 0, "y": 53.83}, {"s": "Linear (RPM vs WOB)", "x": 22.6, "y": 50.25}]}, "mark": {"type": "line", "strokeDash": [4, 3]}},
  {"data": {"values": [{"x": 22.5, "y": 71.5, "t": "y = -0.1582x + 53.829\nR² = 0.0018"}, {"x": 28.4, "y": 5.1, "t": "y = 0.0002x⁵ - 0.0087x⁴ + 0.0786x³ + 0.807x² -\n10.452x + 31.874\nR² = 0.2587"}]}, "mark": {"type": "text", "lineBreak": "\n"}, "encoding": {"text": {"field": "t"}, "color": {"value": "#404040"}}}
]
},
{
"width": 228, "height": 260,
"encoding": {
  "x": {"field": "x", "type": "quantitative", "scale": {"domain": [0, 60], "nice": false}, "axis": {"title": "(o)", "values": [0, 10, 20, 30, 40, 50, 60], "titlePadding": 7, "titleX": 133}},
  "y": {"field": "y", "type": "quantitative", "scale": {"domain": [0, 90], "nice": false}, "axis": {"title": null, "tickCount": 45, "labelExpr": "datum.value % 10 === 0 ? datum.label : ''", "gridColor": {"condition": {"test": "datum.value % 10 === 0", "value": "#d4d4d4"}, "value": "#f0f0f0"}}},
  "color": {"field": "s", "type": "nominal", "scale": {"domain": ["ROP vs WOB", "RPM vs WOB", "Linear (ROP vs", "Linear (RPM vs"], "range": ["#4a7ebb", "#be4b48", "#7f9fd0", "#d98080"]},
    "legend": {"title": null, "legendX": 273, "legendY": 93, "rowPadding": 16, "encode": {"symbols": {"update": {"fill": {"signal": "test(/^(Linear|Poly|Log|Power)/, datum.value) ? 'transparent' : (test(/RPM/, datum.value) ? '#be4b48' : '#4a7ebb')"}, "stroke": {"signal": "test(/^(Linear|Poly|Log|Power)/, datum.value) ? (test(/RPM/, datum.value) ? '#d98080' : '#7f9fd0') : 'transparent'"}}}}}}
},
"layer": [
  {"data": {"values": [
    {"s": "ROP vs WOB", "x": 2.5, "y": 82}, {"s": "ROP vs WOB", "x": 3.0, "y": 71}, {"s": "ROP vs WOB", "x": 3.8, "y": 72}, {"s": "ROP vs WOB", "x": 2.5, "y": 69},
    {"s": "ROP vs WOB", "x": 4.5, "y": 66}, {"s": "ROP vs WOB", "x": 5.0, "y": 62}, {"s": "ROP vs WOB", "x": 1.0, "y": 62}, {"s": "ROP vs WOB", "x": 3.5, "y": 58},
    {"s": "ROP vs WOB", "x": 5.5, "y": 57}, {"s": "ROP vs WOB", "x": 4.0, "y": 55}, {"s": "ROP vs WOB", "x": 5.5, "y": 52}, {"s": "ROP vs WOB", "x": 4.5, "y": 45},
    {"s": "ROP vs WOB", "x": 3.8, "y": 41}, {"s": "ROP vs WOB", "x": 4.0, "y": 37}, {"s": "ROP vs WOB", "x": 0.5, "y": 35}, {"s": "ROP vs WOB", "x": 0.3, "y": 32},
    {"s": "ROP vs WOB", "x": 0.2, "y": 30}, {"s": "ROP vs WOB", "x": 0.3, "y": 27}, {"s": "ROP vs WOB", "x": 4.2, "y": 25}, {"s": "ROP vs WOB", "x": 41, "y": 52},
    {"s": "ROP vs WOB", "x": 50, "y": 52}, {"s": "ROP vs WOB", "x": 50, "y": 53},
    {"s": "RPM vs WOB", "x": 2.0, "y": 51}, {"s": "RPM vs WOB", "x": 2.5, "y": 50}, {"s": "RPM vs WOB", "x": 3.0, "y": 51}, {"s": "RPM vs WOB", "x": 3.5, "y": 50},
    {"s": "RPM vs WOB", "x": 4.0, "y": 51}, {"s": "RPM vs WOB", "x": 4.5, "y": 50}, {"s": "RPM vs WOB", "x": 5.0, "y": 51}, {"s": "RPM vs WOB", "x": 5.5, "y": 50},
    {"s": "RPM vs WOB", "x": 6.0, "y": 51}, {"s": "RPM vs WOB", "x": 0.3, "y": 14.8}, {"s": "RPM vs WOB", "x": 0.5, "y": 6}, {"s": "RPM vs WOB", "x": 0.2, "y": 2},
    {"s": "RPM vs WOB", "x": 0.8, "y": 1}, {"s": "RPM vs WOB", "x": 3.5, "y": 2}, {"s": "RPM vs WOB", "x": 4.5, "y": 2}, {"s": "RPM vs WOB", "x": 5.5, "y": 2},
    {"s": "RPM vs WOB", "x": 50, "y": 15}, {"s": "RPM vs WOB", "x": 50, "y": 8.5}
  ]}, "mark": "point",
  "encoding": {"shape": {"field": "s", "type": "nominal", "scale": {"domain": ["ROP vs WOB", "RPM vs WOB", "Linear (ROP vs", "Linear (RPM vs"], "range": ["circle", "circle", "M-4,0L4,0", "M-4,0L4,0"]},
    "legend": {"title": null, "legendX": 273, "legendY": 93, "rowPadding": 16, "encode": {"symbols": {"update": {"fill": {"signal": "test(/^(Linear|Poly|Log|Power)/, datum.value) ? 'transparent' : (test(/RPM/, datum.value) ? '#be4b48' : '#4a7ebb')"}, "stroke": {"signal": "test(/^(Linear|Poly|Log|Power)/, datum.value) ? (test(/RPM/, datum.value) ? '#d98080' : '#7f9fd0') : 'transparent'"}}}}}}}},
  {"data": {"values": [{"s": "Linear (ROP vs", "x": 0, "y": 54.3}, {"s": "Linear (ROP vs", "x": 50, "y": 54.8}, {"s": "Linear (RPM vs", "x": 3.5, "y": 34.5}, {"s": "Linear (RPM vs", "x": 50, "y": 15}]}, "mark": "line"}
]
},
{
"width": 238, "height": 260,
"encoding": {
  "x": {"field": "x", "type": "quantitative", "scale": {"domain": [0, 8], "nice": false}, "axis": {"title": "(p)", "values": [0, 2, 4, 6, 8], "titlePadding": 4, "titleX": 158}},
  "y": {"field": "y", "type": "quantitative", "scale": {"domain": [0, 35], "nice": false}, "axis": {"title": null, "tickCount": 35, "labelExpr": "datum.value % 5 === 0 ? datum.label : ''", "gridColor": {"condition": {"test": "datum.value % 5 === 0", "value": "#d4d4d4"}, "value": "#f0f0f0"}}},
  "color": {"field": "s", "type": "nominal", "scale": {"domain": ["ROP vs WOB", "RPM vs WOB", "Linear (ROP vs WOB)", "Linear (RPM vs WOB )"], "range": ["#4a7ebb", "#be4b48", "#7f9fd0", "#d98080"]},
    "legend": {"title": null, "legendX": 242, "legendY": 100, "rowPadding": 14, "encode": {"symbols": {"update": {"fill": {"signal": "test(/^(Linear|Poly|Log|Power)/, datum.value) ? 'transparent' : (test(/RPM/, datum.value) ? '#be4b48' : '#4a7ebb')"}, "stroke": {"signal": "test(/^(Linear|Poly|Log|Power)/, datum.value) ? (test(/RPM/, datum.value) ? '#d98080' : '#7f9fd0') : 'transparent'"}}}}}}
},
"layer": [
  {"data": {"values": [
    {"s": "ROP vs WOB", "x": 3.6, "y": 21.8}, {"s": "ROP vs WOB", "x": 3.7, "y": 17.9}, {"s": "ROP vs WOB", "x": 4.03, "y": 21.8}, {"s": "ROP vs WOB", "x": 4.2, "y": 23.6},
    {"s": "ROP vs WOB", "x": 4.2, "y": 25.3}, {"s": "ROP vs WOB", "x": 4.13, "y": 27.4}, {"s": "ROP vs WOB", "x": 4.7, "y": 23.2}, {"s": "ROP vs WOB", "x": 4.8, "y": 21.4},
    {"s": "ROP vs WOB", "x": 4.9, "y": 25.3}, {"s": "ROP vs WOB", "x": 5.0, "y": 26.7}, {"s": "ROP vs WOB", "x": 5.0, "y": 24.6}, {"s": "ROP vs WOB", "x": 5.5, "y": 28.1},
    {"s": "ROP vs WOB", "x": 5.4, "y": 26.7}, {"s": "ROP vs WOB", "x": 5.55, "y": 24.2}, {"s": "ROP vs WOB", "x": 5.8, "y": 29.7}, {"s": "ROP vs WOB", "x": 4.2, "y": 18.3},
    {"s": "ROP vs WOB", "x": 4.4, "y": 19.0}, {"s": "ROP vs WOB", "x": 3.9, "y": 20.5},
    {"s": "RPM vs WOB", "x": 3.3, "y": 31.5}, {"s": "RPM vs WOB", "x": 3.45, "y": 31.5}, {"s": "RPM vs WOB", "x": 3.6, "y": 31.5}, {"s": "RPM vs WOB", "x": 3.75, "y": 31.5},
    {"s": "RPM vs WOB", "x": 3.9, "y": 31.5}, {"s": "RPM vs WOB", "x": 4.05, "y": 31.5}, {"s": "RPM vs WOB", "x": 4.2, "y": 31.5}, {"s": "RPM vs WOB", "x": 4.6, "y": 31.5},
    {"s": "RPM vs WOB", "x": 4.75, "y": 31.5}, {"s": "RPM vs WOB", "x": 4.9, "y": 31.5}, {"s": "RPM vs WOB", "x": 5.05, "y": 31.5}, {"s": "RPM vs WOB", "x": 5.2, "y": 31.5},
    {"s": "RPM vs WOB", "x": 5.5, "y": 31.5}, {"s": "RPM vs WOB", "x": 5.8, "y": 31.5}
  ]}, "mark": "point",
  "encoding": {"shape": {"field": "s", "type": "nominal", "scale": {"domain": ["ROP vs WOB", "RPM vs WOB", "Linear (ROP vs WOB)", "Linear (RPM vs WOB )"], "range": ["circle", "circle", "M-4,0L4,0", "M-4,0L4,0"]},
    "legend": {"title": null, "legendX": 242, "legendY": 100, "rowPadding": 14, "encode": {"symbols": {"update": {"fill": {"signal": "test(/^(Linear|Poly|Log|Power)/, datum.value) ? 'transparent' : (test(/RPM/, datum.value) ? '#be4b48' : '#4a7ebb')"}, "stroke": {"signal": "test(/^(Linear|Poly|Log|Power)/, datum.value) ? (test(/RPM/, datum.value) ? '#d98080' : '#7f9fd0') : 'transparent'"}}}}}}}},
  {"data": {"values": [{"s": "Linear (ROP vs WOB)", "x": 3.5, "y": 19.54}, {"s": "Linear (ROP vs WOB)", "x": 5.8, "y": 27.54}, {"s": "Linear (RPM vs WOB )", "x": 3.3, "y": 31.5}, {"s": "Linear (RPM vs WOB )", "x": 5.8, "y": 31.5}]}, "mark": "line"},
  {"data": {"values": [{"x": 8.84, "y": 34.7, "t": "y = 9E-14x + 31.5"}, {"x": 4.37, "y": 15.1, "t": "y = 3.4813x + 7.3515\nR² = 0.4566"}]}, "mark": {"type": "text", "lineBreak": "\n"}, "encoding": {"text": {"field": "t"}, "color": {"value": "#404040"}}}
]
}
]
}
